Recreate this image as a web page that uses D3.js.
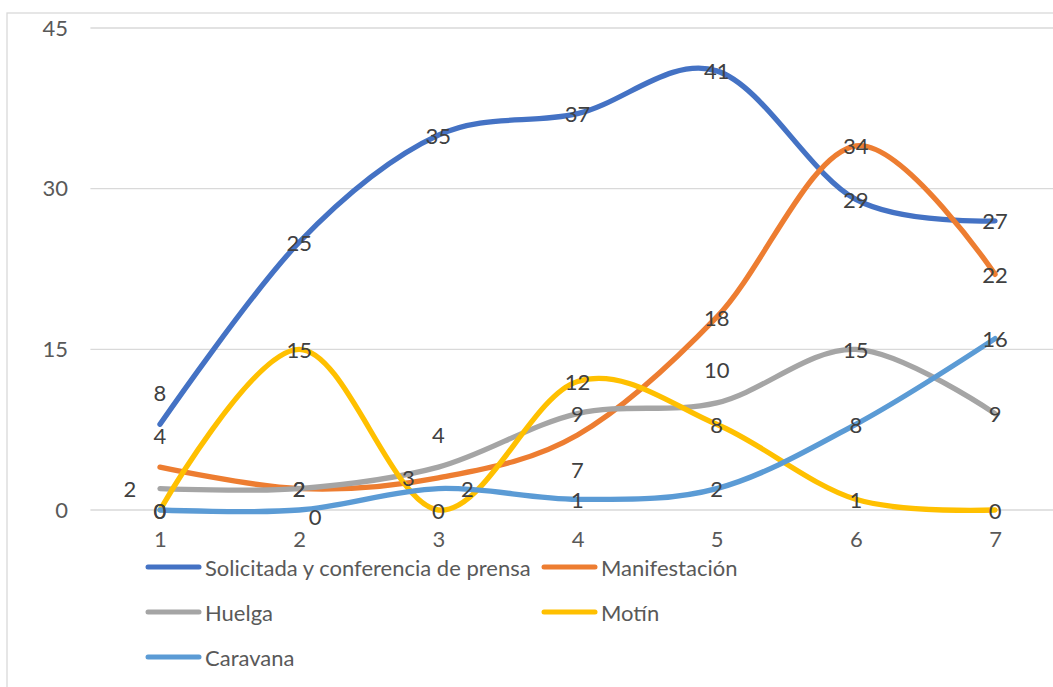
<!DOCTYPE html>
<html>
<head>
<meta charset="utf-8">
<script src="https://cdn.jsdelivr.net/npm/d3@7"></script>
<style>
  html, body { margin: 0; padding: 0; background: #fff; }
  svg { display: block; }
  text { font-family: Lato, "Open Sans", sans-serif; }
</style>
</head>
<body>
<svg id="chart" width="1053" height="687"></svg>
<script>
// Categories on the x axis
const categories = ["1", "2", "3", "4", "5", "6", "7"];
// Y-axis tick values
const yTicks = [0, 15, 30, 45];

// Series values
const seriesNames = ["Solicitada y conferencia de prensa", "Manifestación", "Huelga", "Motín", "Caravana"];
const solicitada   = [8, 25, 35, 37, 41, 29, 27];
const manifestacion = [4, 2, 3, 7, 18, 34, 22];
const huelga       = [2, 2, 4, 9, 10, 15, 9];
const motin        = [0, 15, 0, 12, 8, 1, 0];
const caravana     = [0, 0, 2, 1, 2, 8, 16];

const seriesValues = [solicitada, manifestacion, huelga, motin, caravana];
const seriesColors = ["#4472C4", "#ED7D31", "#A5A5A5", "#FFC000", "#5B9BD5"];

// Data label nudges (pixels) where labels would otherwise collide
const labelNudge = {
  "0-0": [0, -32],
  "1-0": [0, -32], "1-2": [-30, 0], "1-3": [0, 34],
  "2-0": [-30, 0], "2-2": [0, -33], "2-4": [0, -33],
  "4-1": [16, 6], "4-2": [29, 0]
};

const svg = d3.select("#chart");

// Size the text so the longest legend entry spans about 330px
const probe = svg.append("text").attr("font-size", 20).text(seriesNames[0]);
const probeW = probe.node().getComputedTextLength() || 330;
probe.remove();
const FONT = Math.max(17, Math.min(22, 20 * 330 / probeW));

// Chart frame
svg.append("rect")
  .attr("x", 7).attr("y", 13)
  .attr("width", 1100).attr("height", 700)
  .attr("fill", "#fff")
  .attr("stroke", "#d9d9d9").attr("stroke-width", 1.3);

const plot = { left: 90.4, right: 1064.6, top: 28, bottom: 510 };

const x = d3.scalePoint()
  .domain(categories)
  .range([plot.left, plot.right])
  .padding(0.5);

const y = d3.scaleLinear()
  .domain([0, 45])
  .range([plot.bottom, plot.top]);

// Horizontal gridlines
svg.append("g").selectAll("line")
  .data(yTicks)
  .join("line")
  .attr("x1", plot.left).attr("x2", plot.right)
  .attr("y1", d => y(d)).attr("y2", d => y(d))
  .attr("stroke", "#d9d9d9").attr("stroke-width", 1.3);

// Y axis labels
const yAxis = d3.axisLeft(y).tickValues(yTicks).tickSize(0).tickPadding(0);
const gy = svg.append("g").attr("transform", "translate(68,0)").call(yAxis);
gy.select(".domain").remove();
gy.selectAll("text")
  .attr("font-size", FONT).attr("fill", "#595959")
  .attr("font-family", "Lato, 'Open Sans', sans-serif");

// X axis labels
const xAxis = d3.axisBottom(x).tickSize(0).tickPadding(0);
const gx = svg.append("g").attr("transform", "translate(0,531)").call(xAxis);
gx.select(".domain").remove();
gx.selectAll("text")
  .attr("font-size", FONT).attr("fill", "#595959")
  .attr("font-family", "Lato, 'Open Sans', sans-serif");

// Smoothed series lines
const line = d3.line()
  .x((d, i) => x(categories[i]))
  .y(d => y(d))
  .curve(d3.curveCardinal.tension(0));

svg.append("g").selectAll("path")
  .data(seriesValues)
  .join("path")
  .attr("d", d => line(d))
  .attr("fill", "none")
  .attr("stroke", (d, i) => seriesColors[i])
  .attr("stroke-width", 5.3)
  .attr("stroke-linecap", "round")
  .attr("stroke-linejoin", "round");

// Data labels
const labels = [];
seriesValues.forEach((vals, s) => {
  vals.forEach((v, i) => {
    const n = labelNudge[s + "-" + i] || [0, 0];
    labels.push({ v, cx: x(categories[i]) + n[0], cy: y(v) + n[1] });
  });
});
svg.append("g").selectAll("text")
  .data(labels)
  .join("text")
  .attr("x", d => d.cx).attr("y", d => d.cy)
  .attr("text-anchor", "middle")
  .attr("dominant-baseline", "central")
  .attr("font-size", FONT)
  .attr("fill", "#404040")
  .text(d => d.v);

// Legend
const legendPos = [[146, 567], [542, 567], [146, 612], [542, 612], [146, 657]];
const lg = svg.append("g").selectAll("g")
  .data(seriesNames)
  .join("g")
  .attr("transform", (d, i) => `translate(${legendPos[i][0]},${legendPos[i][1]})`);
lg.append("line")
  .attr("x1", 2).attr("x2", 53).attr("y1", 0).attr("y2", 0)
  .attr("stroke", (d, i) => seriesColors[i])
  .attr("stroke-width", 5).attr("stroke-linecap", "round");
lg.append("text")
  .attr("x", 59).attr("y", 0)
  .attr("dominant-baseline", "central")
  .attr("font-size", FONT)
  .attr("fill", "#595959")
  .text(d => d);
</script>
</body>
</html>
